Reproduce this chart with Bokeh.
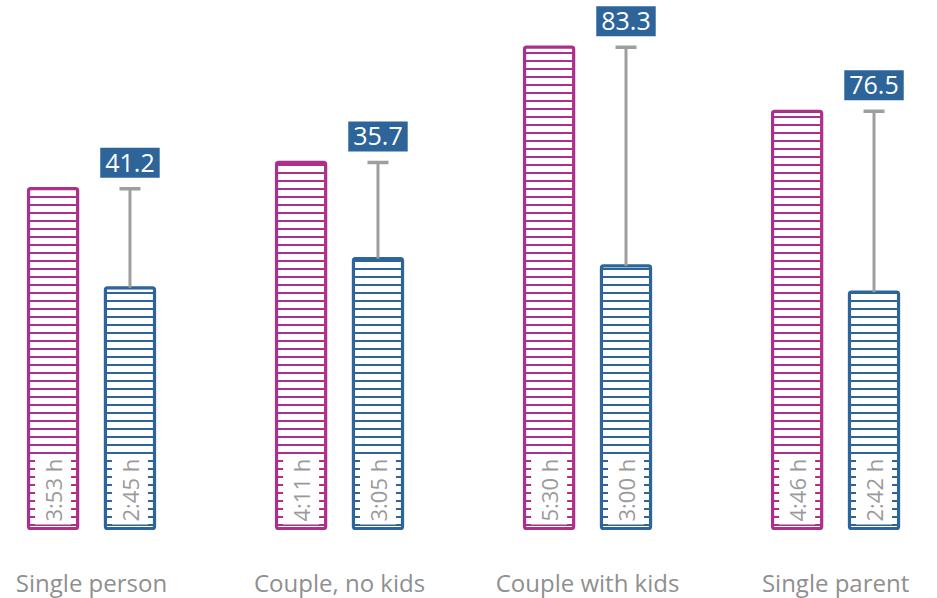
import numpy as np
from bokeh.plotting import figure
from bokeh.models import ColumnDataSource, Range1d
from bokeh.core.properties import value
from bokeh.embed import file_html
from bokeh.resources import INLINE

# Daily time spent on unpaid work, by household type
households = ["Single person", "Couple, no kids", "Couple with kids", "Single parent"]
women_time = ["3:53", "4:11", "5:30", "4:46"]
men_time = ["2:45", "3:05", "3:00", "2:42"]
gap_pct = [41.2, 35.7, 83.3, 76.5]   # how much more time women spend, in %

PINK = "#AD2F8C"
BLUE = "#2D6499"
GREY_TEXT = "#8F8F8F"
GREY_LINE = "#9E9E9E"
FONT = value("Open Sans")


def to_minutes(t):
    h, m = t.split(":")
    return int(h) * 60 + int(m)


idx = np.arange(len(households))
women_min = [to_minutes(t) for t in women_time]
men_min = [to_minutes(t) for t in men_time]

dodge = 0.155
bar_w = 0.198

women = ColumnDataSource(dict(
    x=idx - dodge, top=women_min, label=[f"{t} h" for t in women_time]))
men = ColumnDataSource(dict(
    x=idx + dodge, top=men_min, label=[f"{t} h" for t in men_time],
    women=women_min, gap=[f"{g:.1f}" for g in gap_pct]))
cats = ColumnDataSource(dict(x=idx, name=households))

p = figure(width=937, height=598, output_backend="svg", toolbar_location=None,
           x_axis_location=None, y_axis_location=None,
           x_range=Range1d(-0.367, 3.411), y_range=Range1d(-48, 362),
           min_border=0, outline_line_color=None, background_fill_color="white")
p.grid.visible = False

# striped bars
for src, col in ((women, PINK), (men, BLUE)):
    p.vbar(x="x", top="top", bottom=0, width=bar_w, source=src,
           fill_color="white", line_color=col, line_width=3.2,
           hatch_pattern="horizontal_line", hatch_color=col,
           hatch_weight=2, hatch_scale=8, border_radius=2)

# gap whisker from the men's bar up to the women's level
p.segment(x0="x", y0="top", x1="x", y1="women", source=men,
          line_color=GREY_LINE, line_width=3)
p.scatter(x="x", y="women", source=men, marker="dash", size=21,
          line_color=GREY_LINE, line_width=3.5)

# percentage gap badge
p.text(x="x", y="women", text="gap", source=men, y_offset=-11,
       text_align="center", text_baseline="bottom", text_font=FONT,
       text_font_size="25px", text_color="white",
       background_fill_color=BLUE, padding=dict(x=5, y=6))

# time labels written up the bars
for src in (women, men):
    p.text(x="x", y=0, text="label", source=src, angle=np.pi / 2,
           y_offset=-4, text_align="left", text_baseline="middle",
           text_font=FONT, text_font_size="22px", text_color="#9A9A9A",
           background_fill_color="white", padding=dict(x=3, y=3))

# household names
p.text(x="x", y=-37, text="name", source=cats, text_align="center",
       text_baseline="middle", text_font=FONT, text_font_size="24px",
       text_color=GREY_TEXT)

open("out.html", "w").write(file_html(p, INLINE))
